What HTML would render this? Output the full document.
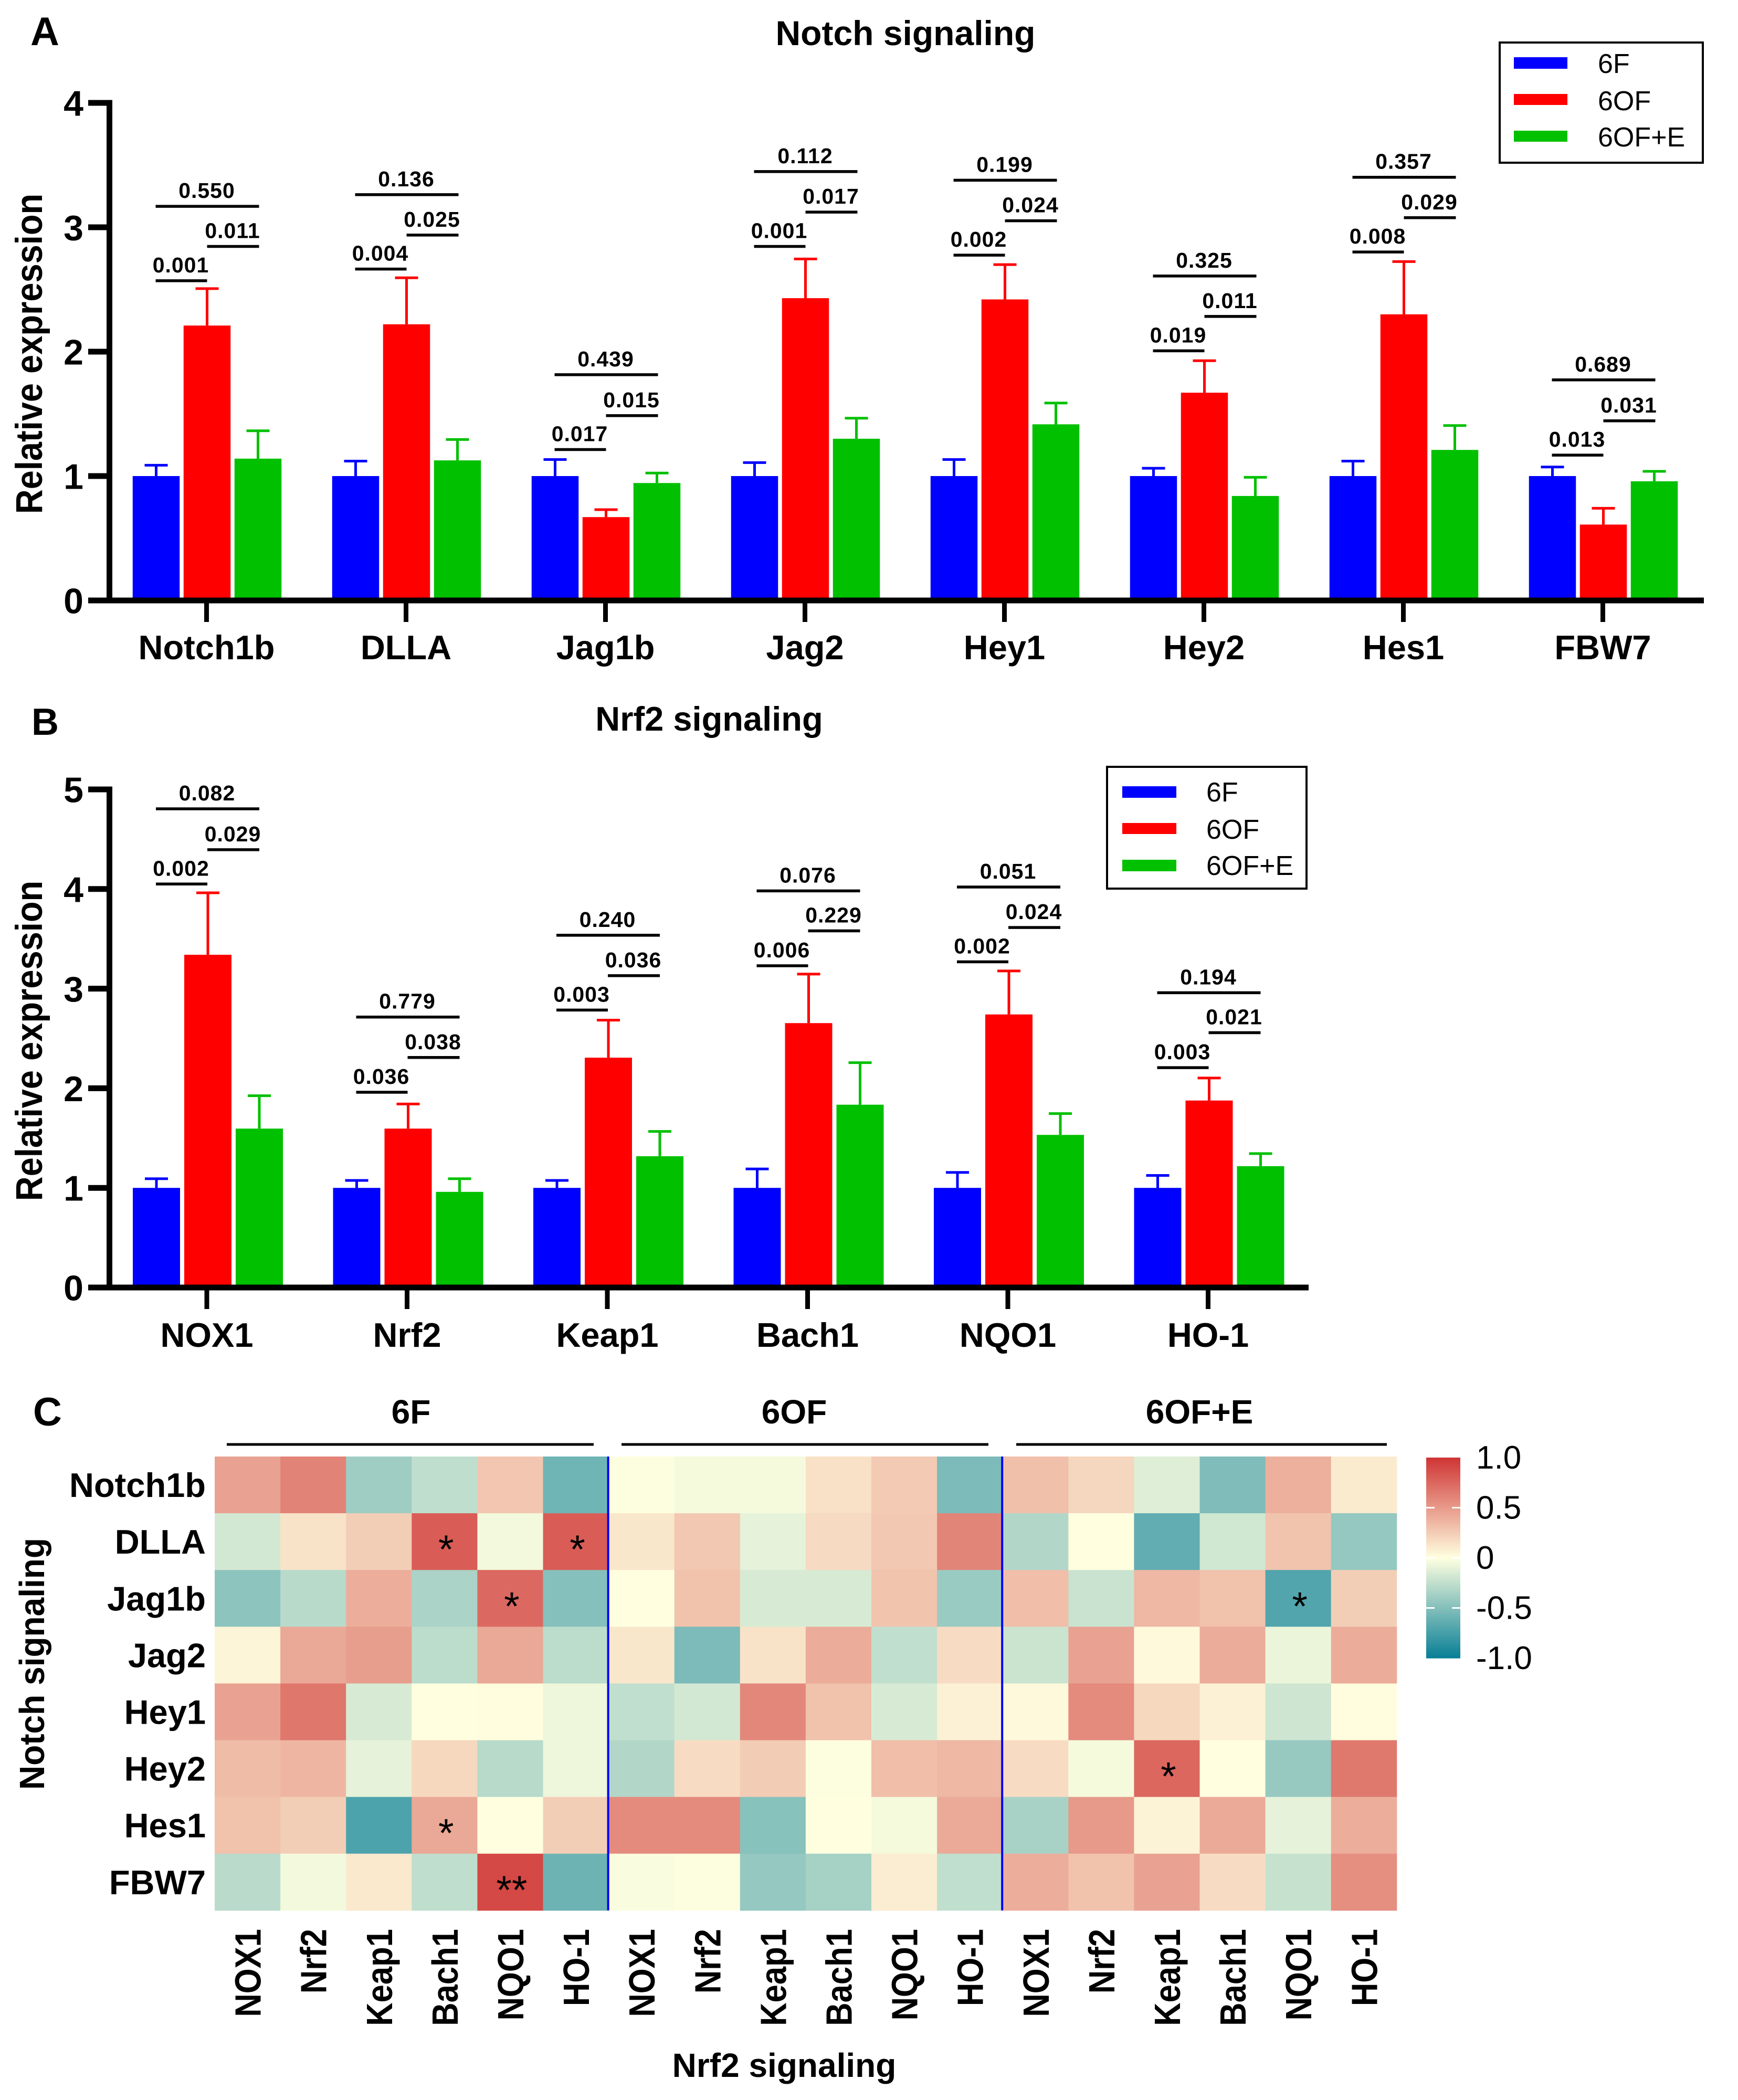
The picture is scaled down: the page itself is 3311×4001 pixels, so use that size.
<!DOCTYPE html>
<html lang="en">
<head>
<meta charset="utf-8">
<title>Notch and Nrf2 signaling figure</title>
<style>
html,body{margin:0;padding:0;background:#fff;}
svg{display:block;}
text{font-family:"Liberation Sans",sans-serif;fill:#000;}
.b{font-weight:bold;}
</style>
</head>
<body>
<svg id="figure" xmlns="http://www.w3.org/2000/svg" width="3311" height="4001" viewBox="0 0 3311 4001">
  <rect width="3311" height="4001" fill="#fff"/>
  <text class="b" x="58" y="86" font-size="76">A</text>
  <text class="b" x="1725" y="86" font-size="66" text-anchor="middle">Notch signaling</text>
  <text class="b" transform="translate(80,674) rotate(-90) scale(1,1.1)" font-size="65" text-anchor="middle">Relative expression</text>
  <g>
    <rect x="2857" y="81" width="387" height="229" fill="#fff" stroke="#000" stroke-width="4"/>
    <rect x="2884" y="109" width="102" height="22" fill="#0000ff"/>
    <rect x="2884" y="179" width="102" height="21" fill="#ff0000"/>
    <rect x="2884" y="249" width="102" height="21" fill="#00c000"/>
    <text x="3044" y="139" font-size="52">6F</text>
    <text x="3044" y="210" font-size="52">6OF</text>
    <text x="3044" y="279" font-size="52">6OF+E</text>
  </g>
  <g id="panelA"></g>

  <text class="b" x="60" y="1400" font-size="72">B</text>
  <text class="b" x="1351" y="1392" font-size="65" text-anchor="middle">Nrf2 signaling</text>
  <text class="b" transform="translate(80,1983) rotate(-90) scale(1,1.1)" font-size="65" text-anchor="middle">Relative expression</text>
  <g>
    <rect x="2109" y="1461" width="380" height="232" fill="#fff" stroke="#000" stroke-width="4"/>
    <rect x="2138" y="1498" width="103" height="22" fill="#0000ff"/>
    <rect x="2138" y="1568" width="103" height="21" fill="#ff0000"/>
    <rect x="2138" y="1638" width="103" height="22" fill="#00c000"/>
    <text x="2298" y="1527" font-size="52">6F</text>
    <text x="2298" y="1598" font-size="52">6OF</text>
    <text x="2298" y="1667" font-size="52">6OF+E</text>
  </g>
  <g id="panelB"></g>

  <text class="b" x="63" y="2716" font-size="76">C</text>
  <text class="b" transform="translate(84,3170) rotate(-90) scale(1,1.05)" font-size="64" text-anchor="middle">Notch signaling</text>
  <text class="b" x="1494" y="3957" font-size="64" text-anchor="middle">Nrf2 signaling</text>
  <g id="panelC"></g>
  <g id="colorbar"></g>
</svg>

<script>
/* ---------- Panel A data ---------- */
const notchGenes = ["Notch1b", "DLLA", "Jag1b", "Jag2", "Hey1", "Hey2", "Hes1", "FBW7"];
const notchMean6F = [1, 1, 1, 1, 1, 1, 1, 1];
const notchMean6OF = [2.21, 2.22, 0.67, 2.43, 2.42, 1.67, 2.30, 0.61];
const notchMean6OFE = [1.14, 1.126, 0.944, 1.30, 1.416, 0.84, 1.21, 0.958];
const notchUpper6F = [1.087, 1.12, 1.133, 1.108, 1.133, 1.063, 1.12, 1.073];
const notchUpper6OF = [2.507, 2.594, 0.73, 2.745, 2.70, 1.927, 2.724, 0.741];
const notchUpper6OFE = [1.364, 1.294, 1.024, 1.465, 1.587, 0.99, 1.406, 1.038];
const notchPLow = ["0.001", "0.004", "0.017", "0.001", "0.002", "0.019", "0.008", "0.013"];
const notchPMid = ["0.011", "0.025", "0.015", "0.017", "0.024", "0.011", "0.029", "0.031"];
const notchPTop = ["0.550", "0.136", "0.439", "0.112", "0.199", "0.325", "0.357", "0.689"];
const notchBracketLow = [2.570, 2.664, 1.213, 2.846, 2.776, 2.007, 2.801, 1.168];
const notchBracketMid = [2.846, 2.937, 1.486, 3.122, 3.052, 2.283, 3.077, 1.444];
const notchBracketTop = [3.168, 3.262, 1.815, 3.448, 3.378, 2.608, 3.402, 1.773];
const notchTicks = [0, 1, 2, 3, 4];

/* ---------- Panel B data ---------- */
const nrf2Genes = ["NOX1", "Nrf2", "Keap1", "Bach1", "NQO1", "HO-1"];
const nrf2Mean6F = [1, 1, 1, 1, 1, 1];
const nrf2Mean6OF = [3.34, 1.595, 2.307, 2.654, 2.741, 1.877];
const nrf2Mean6OFE = [1.595, 0.96, 1.318, 1.835, 1.532, 1.218];
const nrf2Upper6F = [1.092, 1.075, 1.075, 1.19, 1.155, 1.125];
const nrf2Upper6OF = [3.962, 1.842, 2.684, 3.146, 3.178, 2.103];
const nrf2Upper6OFE = [1.925, 1.092, 1.567, 2.257, 1.746, 1.344];
const nrf2PLow = ["0.002", "0.036", "0.003", "0.006", "0.002", "0.003"];
const nrf2PMid = ["0.029", "0.038", "0.036", "0.229", "0.024", "0.021"];
const nrf2PTop = ["0.082", "0.779", "0.240", "0.076", "0.051", "0.194"];
const nrf2BracketLow = [4.05, 1.96, 2.785, 3.23, 3.269, 2.207];
const nrf2BracketMid = [4.395, 2.309, 3.13, 3.58, 3.614, 2.558];
const nrf2BracketTop = [4.805, 2.715, 3.536, 3.981, 4.02, 2.959];
const nrf2Ticks = [0, 1, 2, 3, 4, 5];

/* ---------- Panel C data ---------- */
const heatRows = ["Notch1b", "DLLA", "Jag1b", "Jag2", "Hey1", "Hey2", "Hes1", "FBW7"];
const heatColumns = ["NOX1", "Nrf2", "Keap1", "Bach1", "NQO1", "HO-1"];
const heatGroups = ["6F", "6OF", "6OF+E"];
const heatValues = [
  [ .46,  .61, -.39, -.26,  .28, -.58,   -.01, -.04, -.04,  .15,  .26, -.53,    .31,  .20, -.13, -.52,  .39,  .10],
  [-.18,  .14,  .24,  .80, -.05,  .80,    .12,  .27, -.10,  .18,  .27,  .60,   -.31,  .00, -.64, -.19,  .29, -.43],
  [-.46, -.29,  .40, -.34,  .74, -.49,    .00,  .30, -.16, -.16,  .29, -.41,    .32, -.22,  .35,  .30, -.70,  .24],
  [ .05,  .43,  .48, -.27,  .43, -.27,    .12, -.53,  .14,  .41, -.25,  .17,   -.21,  .46,  .03,  .41, -.08,  .41],
  [ .46,  .67, -.16,  .00,  .01, -.07,   -.25, -.18,  .59,  .30, -.16,  .07,    .03,  .57,  .19,  .07, -.20,  .01],
  [ .33,  .36, -.10,  .19, -.29, -.07,   -.31,  .17,  .25, -.01,  .32,  .35,    .17, -.04,  .75,  .00, -.42,  .66],
  [ .30,  .24, -.72,  .43,  .00,  .24,    .57,  .57, -.48,  .00, -.04,  .42,   -.35,  .50,  .06,  .42, -.10,  .40],
  [-.28, -.05,  .11, -.26,  .90, -.59,   -.02, -.01, -.43, -.36,  .09, -.25,    .40,  .30,  .46,  .17, -.23,  .55]
];
const heatStarRows = [1, 1, 2, 6, 7, 2, 5];
const heatStarCols = [3, 5, 4, 3, 4, 16, 14];
const heatStarMarks = ["*", "*", "*", "*", "**", "*", "*"];
const colorbarTicks = [1, 0.5, 0, -0.5, -1];
const colorbarLabels = ["1.0", "0.5", "0", "-0.5", "-1.0"];

const SVGNS = "http://www.w3.org/2000/svg";
function make(parent, tag, attrs, txt) {
  const el = document.createElementNS(SVGNS, tag);
  for (const k in attrs) el.setAttribute(k, attrs[k]);
  if (txt !== undefined) el.textContent = txt;
  parent.appendChild(el);
  return el;
}

const COLORS = ["#0000ff", "#ff0000", "#00c000"];
const SERIES = ["6f", "6of", "6of-e"];

function drawBarPanel(root, o) {
  const y = v => o.y0 - v * o.unit;
  const x = i => o.x0 + i * o.pitch;
  const means = [o.m1, o.m2, o.m3];
  const uppers = [o.u1, o.u2, o.u3];
  const offs = o.offs;
  const bw = o.barW;

  o.cats.forEach((cat, i) => {
    const c = x(i);
    means.forEach((m, s) => {
      const cx = c + offs[s];
      const bar = make(root, "rect", {x: cx - bw / 2, y: y(m[i]), width: bw, height: o.y0 - y(m[i]), fill: COLORS[s]});
      
      
      const stem = make(root, "line", {x1: cx, x2: cx, y1: y(m[i]), y2: y(uppers[s][i]), stroke: COLORS[s], "stroke-width": 5});
      
      
      const cap = make(root, "line", {x1: cx - 22, x2: cx + 22, y1: y(uppers[s][i]), y2: y(uppers[s][i]), stroke: COLORS[s], "stroke-width": 5});
      
      
    });

    const spans = [[c - 97, c + 1, o.bLow[i], o.pLow[i]], [c + 1, c + 100, o.bMid[i], o.pMid[i]], [c - 97, c + 100, o.bTop[i], o.pTop[i]]];
    spans.forEach(sp => {
      const line = make(root, "line", {x1: sp[0], x2: sp[1], y1: y(sp[2]), y2: y(sp[2]), stroke: "#000", "stroke-width": 5.5});
      
      
      const label = make(root, "text", {x: (sp[0] + sp[1]) / 2 - 1, y: y(sp[2]) - 16, "font-size": 41, "font-weight": "bold", "text-anchor": "middle", "letter-spacing": 1}, sp[3]);
      
      
    });

    const tick = make(root, "line", {x1: c, x2: c, y1: o.y0, y2: o.y0 + 41, stroke: "#000", "stroke-width": 9});
    
    
    const lab = make(root, "text", {x: c, y: o.labelY, "font-size": 65, "font-weight": "bold", "text-anchor": "middle"}, cat);
    
    
  });

  o.ticks.forEach(t => {
    const tk = make(root, "line", {x1: o.axisLeft, x2: o.axisX, y1: y(t), y2: y(t), stroke: "#000", "stroke-width": 11});
    
    
    const tl = make(root, "text", {x: 159, y: y(t) + 24.5, "font-size": 68, "font-weight": "bold", "text-anchor": "end"}, String(t));
    
    
  });

  const yAxis = make(root, "line", {x1: o.axisX, x2: o.axisX, y1: y(o.ticks[o.ticks.length - 1]) - 5.5, y2: o.y0 + 5, stroke: "#000", "stroke-width": 11});
  
  
  const xAxis = make(root, "line", {x1: o.axisLeft, x2: o.axisRight, y1: o.y0, y2: o.y0, stroke: "#000", "stroke-width": 11});
  
  
}

drawBarPanel(document.getElementById("panelA"), {
  cats: notchGenes, m1: notchMean6F, m2: notchMean6OF, m3: notchMean6OFE,
  u1: notchUpper6F, u2: notchUpper6OF, u3: notchUpper6OFE,
  pLow: notchPLow, pMid: notchPMid, pTop: notchPTop,
  bLow: notchBracketLow, bMid: notchBracketMid, bTop: notchBracketTop,
  ticks: notchTicks, y0: 1144, unit: 237, x0: 393.5, pitch: 380,
  offs: [-96, 1, 98], barW: 89.5,
  axisX: 208.5, axisLeft: 168, axisRight: 3246, labelY: 1256
});
drawBarPanel(document.getElementById("panelB"), {
  cats: nrf2Genes, m1: nrf2Mean6F, m2: nrf2Mean6OF, m3: nrf2Mean6OFE,
  u1: nrf2Upper6F, u2: nrf2Upper6OF, u3: nrf2Upper6OFE,
  pLow: nrf2PLow, pMid: nrf2PMid, pTop: nrf2PTop,
  bLow: nrf2BracketLow, bMid: nrf2BracketMid, bTop: nrf2BracketTop,
  ticks: nrf2Ticks, y0: 2453, unit: 189.8, x0: 394, pitch: 381.5,
  offs: [-96, 2, 100], barW: 90,
  axisX: 208.5, axisLeft: 168, axisRight: 2493, labelY: 2566
});

/* ---------- heatmap ---------- */
const HI = [207, 52, 52], MID = [255, 255, 224], LO = [8, 127, 150];
function heatColor(v) {
  const end = v >= 0 ? HI : LO, t = Math.min(1, Math.abs(v));
  return "rgb(" + MID.map((m, i) => Math.round(m + (end[i] - m) * t)).join(",") + ")";
}
const heatX0 = 409, heatY0 = 2775, cellW = 125.1, cellH = 108.1;
const colX = i => heatX0 + i * cellW;
const rowY = i => heatY0 + i * cellH;
const panelC = document.getElementById("panelC");

heatValues.forEach((row, r) => {
  row.forEach((v, c) => {
    const cell = make(panelC, "rect", {x: colX(c), y: rowY(r), width: cellW + 0.5, height: cellH + 0.5, fill: heatColor(v)});
    
    
  });
  const rl = make(panelC, "text", {x: 392, y: rowY(r) + cellH / 2 + 23, "font-size": 65, "font-weight": "bold", "text-anchor": "end"}, heatRows[r]);
  
  
});

heatGroups.forEach((g, gi) => {
  const left = [432, 1184, 1936][gi], right = [1131, 1883, 2642][gi], mid = [783, 1513, 2285][gi];
  const rule = make(panelC, "line", {x1: left, x2: right, y1: 2752, y2: 2752, stroke: "#000", "stroke-width": 5});
  
  
  const head = make(panelC, "text", {x: mid, y: 2712, "font-size": 64, "font-weight": "bold", "text-anchor": "middle"}, g);
  
  
  heatColumns.forEach((name, ci) => {
    const cx = colX(gi * 6 + ci) + cellW / 2;
    const cl = make(panelC, "text", {transform: "translate(" + (cx + 25) + ",3675) rotate(-90) scale(0.88,1)", "font-size": 70, "font-weight": "bold", "text-anchor": "end"}, name);
    
    
  });
});

[6, 12].forEach(k => {
  const sep = make(panelC, "line", {x1: colX(k) - 1, x2: colX(k) - 1, y1: heatY0, y2: rowY(8), stroke: "#0000ff", "stroke-width": 4});
  
  
});

heatStarMarks.forEach((m, i) => {
  const star = make(panelC, "text", {x: colX(heatStarCols[i]) + cellW / 2 + 3, y: rowY(heatStarRows[i]) + cellH / 2 + 41, "font-size": 76, "text-anchor": "middle"}, m);
  
  
});

/* ---------- colour bar ---------- */
const cbRoot = document.getElementById("colorbar");
const cbTop = 2777, cbBottom = 3159, cbLeft = 2717, cbWidth = 65;
const cbY = v => cbTop + (1 - v) / 2 * (cbBottom - cbTop);
const cbSteps = 96;
for (let i = 0; i < cbSteps; i++) {
  const vA = 1 - 2 * i / cbSteps;
  const vB = 1 - 2 * (i + 1) / cbSteps;
  const seg = make(cbRoot, "rect", {x: cbLeft, y: cbY(vA), width: cbWidth, height: cbY(vB) - cbY(vA) + 0.6, fill: heatColor((vA + vB) / 2)});
  
  
}
colorbarTicks.forEach((t, i) => {
  if (Math.abs(t) < 1) {
    [[cbLeft, cbLeft + 16], [cbLeft + cbWidth - 16, cbLeft + cbWidth]].forEach(s => {
      const cbt = make(cbRoot, "line", {x1: s[0], x2: s[1], y1: cbY(t), y2: cbY(t), stroke: "#fff", "stroke-width": 3});
      
      
    });
  }
  const cbl = make(cbRoot, "text", {x: 2812, y: cbY(t) + 21, "font-size": 62}, colorbarLabels[i]);
  
  
});
</script>
</body>
</html>
